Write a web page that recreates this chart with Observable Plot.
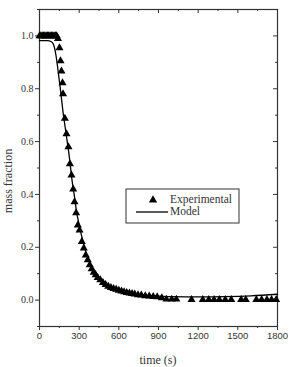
<!DOCTYPE html>
<html>
<head>
<meta charset="utf-8">
<script src="https://cdn.jsdelivr.net/npm/d3@7"></script>
<script src="https://cdn.jsdelivr.net/npm/@observablehq/plot@0.6"></script>
<style>
  html, body { margin: 0; padding: 0; background: #fff; }
  #chart { width: 290px; height: 367px; overflow: hidden; }
</style>
</head>
<body>
<div id="chart"></div>
<script>
// Experimental data (time s, mass fraction)
const expTime = [0,10,20,30,40,50,60,70,80,90,100,110,120,130,140,151,159,166,174,178,192,204,219,230,242,255,265,277,290,303,320,335,350,365,380,395,410,425,440,460,480,500,520,540,560,580,600,620,640,660,680,700,720,745,770,800,830,860,890,925,960,1000,1035,1150,1235,1280,1320,1360,1405,1450,1525,1560,1640,1680,1720,1755,1790];
const expMass = [1.0,1.0,1.0,1.0,1.0,1.0,1.0,1.0,1.0,1.0,1.0,1.0,1.0,1.0,0.99,0.955,0.905,0.867,0.822,0.78,0.688,0.629,0.58,0.515,0.473,0.42,0.372,0.33,0.284,0.265,0.221,0.197,0.17,0.152,0.133,0.118,0.105,0.095,0.085,0.076,0.066,0.058,0.052,0.047,0.043,0.04,0.037,0.034,0.031,0.028,0.026,0.024,0.022,0.02,0.019,0.016,0.015,0.013,0.012,0.008,0.003,0.003,0.003,0.002,0.002,0.002,0.002,0.002,0.002,0.002,0.002,0.002,0.002,0.002,0.002,0.002,0.002];

// Model curve
const modelTime = [0,60,90,105,115,125,135,145,160,176,197,222,247,265,280,300,320,340,360,380,400,430,460,500,550,600,650,700,800,900,1000,1200,1400,1600,1800];
const modelMass = [0.982,0.982,0.978,0.968,0.952,0.925,0.89,0.85,0.79,0.72,0.644,0.556,0.45,0.39,0.335,0.285,0.24,0.2,0.168,0.14,0.118,0.092,0.074,0.056,0.043,0.034,0.028,0.024,0.018,0.015,0.013,0.012,0.013,0.016,0.022];

// Ticks
const xMajor = [0,300,600,900,1200,1500,1800];
const xMinor = [150,450,750,1050,1350,1650];
const yMajor = [0.0,0.2,0.4,0.6,0.8,1.0];
const yMinor = [-0.1,0.1,0.3,0.5,0.7,0.9,1.1];

// Legend labels
const legendLabels = ["Experimental", "Model"];

const W = 290, H = 367;
const mL = 39, mR = 13, mT = 9, mB = 41;
const fw = W - mL - mR, fh = H - mT - mB;

const expData = expTime.map((t, i) => ({t, m: expMass[i]}));
const modelData = modelTime.map((t, i) => ({t, m: modelMass[i]}));

const axisColor = "#333";
const SERIF = "Times New Roman, serif";
const SANS = "Arial, sans-serif";

const chart = Plot.plot({
  width: W,
  height: H,
  marginLeft: mL,
  marginRight: mR,
  marginTop: mT,
  marginBottom: mB,
  x: {domain: [0, 1800]},
  y: {domain: [-0.1, 1.1]},
  marks: [
    // bottom axis (outward ticks)
    Plot.axisX({ticks: xMajor, tickSize: 4, tickPadding: 2, tickFormat: d => String(d),
      fontFamily: SANS, fontSize: 9.5, label: null, stroke: axisColor, fill: axisColor}),
    Plot.axisX({ticks: xMinor, tickSize: 2, text: null, label: null, stroke: axisColor}),
    // left axis (outward ticks)
    Plot.axisY({ticks: yMajor, tickSize: 4, tickPadding: 2, tickFormat: d3.format(".1f"),
      fontFamily: SERIF, fontSize: 10, label: null, stroke: axisColor, fill: axisColor}),
    Plot.axisY({ticks: yMinor, tickSize: 2, text: null, label: null, stroke: axisColor}),
    // top mirror ticks (inward)
    Plot.ruleX(xMajor, {x: d => d, insetBottom: fh - 4, stroke: axisColor}),
    Plot.ruleX(xMinor, {x: d => d, insetBottom: fh - 2, stroke: axisColor}),
    // right mirror ticks (inward)
    Plot.ruleY(yMajor, {y: d => d, insetLeft: fw - 4, stroke: axisColor}),
    Plot.ruleY(yMinor, {y: d => d, insetLeft: fw - 2, stroke: axisColor}),
    Plot.frame({stroke: axisColor, strokeWidth: 1.2}),
    // model line
    Plot.line(modelData, {x: "t", y: "m", stroke: "#000", strokeWidth: 1.3, curve: "monotone-x"}),
    // experimental triangles
    Plot.dot(expData, {x: "t", y: "m", symbol: "triangle", r: 3, fill: "#000", stroke: "none"})
  ]
});

const svg = d3.select(chart);

// axis titles
svg.append("text")
  .attr("transform", "translate(12, 181) rotate(-90)")
  .attr("text-anchor", "middle")
  .style("font-family", SERIF)
  .style("font-size", "12px")
  .attr("fill", axisColor)
  .text("mass fraction");

svg.append("text")
  .attr("x", 158)
  .attr("y", 364)
  .attr("text-anchor", "middle")
  .style("font-family", SERIF)
  .style("font-size", "12px")
  .attr("fill", axisColor)
  .text("time (s)");

// legend
const lg = svg.append("g").attr("transform", "translate(126, 189)");
lg.append("rect").attr("width", 113).attr("height", 34)
  .attr("fill", "#fff").attr("stroke", axisColor).attr("stroke-width", 1);
lg.append("path").attr("d", d3.symbol(d3.symbolTriangle, 30)())
  .attr("transform", "translate(27, 11)").attr("fill", "#000");
lg.append("line").attr("x1", 10).attr("x2", 42).attr("y1", 23).attr("y2", 23)
  .attr("stroke", "#000").attr("stroke-width", 1.3);
lg.selectAll("text.lab").data(legendLabels).join("text")
  .attr("class", "lab")
  .attr("x", 44)
  .attr("y", (d, i) => 14 + i * 12)
  .attr("text-anchor", "start")
  .style("font-family", SERIF)
  .style("font-size", "11.5px")
  .attr("fill", axisColor)
  .text(d => d);

document.getElementById("chart").appendChild(chart);
</script>
</body>
</html>
